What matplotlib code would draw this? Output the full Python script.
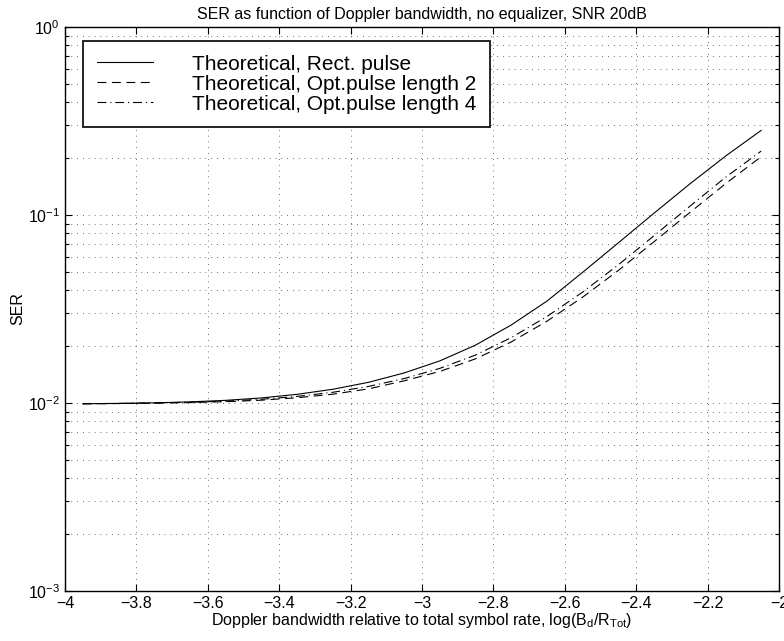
import matplotlib
matplotlib.use("Agg")
import matplotlib.pyplot as plt
from matplotlib.ticker import LogLocator, NullFormatter, FixedLocator

plt.rcParams['font.family'] = ['Liberation Sans', 'DejaVu Sans']
plt.rcParams['mathtext.fontset'] = 'custom'
plt.rcParams['mathtext.rm'] = 'Liberation Sans'
plt.rcParams['mathtext.it'] = 'Liberation Sans'

# log10 of Doppler bandwidth relative to total symbol rate
x_log_bd = [-3.95, -3.85, -3.75, -3.65, -3.55, -3.45, -3.35, -3.25, -3.15, -3.05,
            -2.95, -2.85, -2.75, -2.65, -2.55, -2.45, -2.35, -2.25, -2.15, -2.05]

# symbol error rate, rectangular pulse
ser_rect = [0.00991, 0.00995, 0.01002, 0.01014, 0.01033, 0.01064, 0.01112, 0.01183, 0.01288, 0.01445,
            0.01675, 0.02032, 0.02600, 0.03483, 0.04955, 0.07112, 0.1023, 0.1462, 0.2056, 0.2818]

# symbol error rate, optimised pulse of length 2
ser_opt2 = [0.00991, 0.00993, 0.00998, 0.01005, 0.01016, 0.01035, 0.01067, 0.01114, 0.01189, 0.01312,
            0.01472, 0.01718, 0.02113, 0.02723, 0.03656, 0.05070, 0.07211, 0.1030, 0.1466, 0.2042]

# symbol error rate, optimised pulse of length 4
ser_opt4 = [0.00991, 0.00995, 0.01000, 0.01009, 0.01023, 0.01047, 0.01084, 0.01140, 0.01225, 0.01349,
            0.01528, 0.01799, 0.02228, 0.02884, 0.03890, 0.05433, 0.07762, 0.1112, 0.1585, 0.2188]

legend_labels = ["Theoretical, Rect. pulse",
                 "Theoretical, Opt.pulse length 2",
                 "Theoretical, Opt.pulse length 4"]
x_ticks = [-4, -3.8, -3.6, -3.4, -3.2, -3, -2.8, -2.6, -2.4, -2.2, -2]

fig = plt.figure(figsize=(7.84, 6.41), dpi=100)
ax = fig.add_axes([65 / 784, 50 / 641, 714 / 784, 564 / 641])

lw = 0.8
ax.plot(x_log_bd, ser_rect, color='k', lw=lw, linestyle='-', label=legend_labels[0])
ax.plot(x_log_bd, ser_opt2, color='k', lw=lw, linestyle=(0, (8, 5)), label=legend_labels[1])
ax.plot(x_log_bd, ser_opt4, color='k', lw=lw, linestyle=(0, (8, 3.5, 1, 3.5)), label=legend_labels[2])

ax.set_yscale('log')
ax.set_xlim(-4, -2)
ax.set_ylim(1e-3, 1)
ax.xaxis.set_major_locator(FixedLocator(x_ticks))
ax.set_xticklabels([('%g' % t).replace('-', '\u2212') for t in x_ticks])
ax.yaxis.set_major_locator(LogLocator(base=10, numticks=10))
ax.yaxis.set_minor_locator(LogLocator(base=10, subs=range(2, 10), numticks=20))
ax.yaxis.set_minor_formatter(NullFormatter())

ax.tick_params(which='both', direction='in', top=True, right=True, labelsize=11.5, width=0.8)
ax.tick_params(which='major', length=5)
ax.tick_params(which='minor', length=3)
for s in ax.spines.values():
    s.set_linewidth(1.0)

grid_style = dict(color='0.25', linestyle=(0, (1, 6)), linewidth=0.6)
ax.grid(True, which='major', axis='both', **grid_style)
ax.grid(True, which='minor', axis='y', **grid_style)

ax.set_title("SER as function of Doppler bandwidth, no equalizer, SNR 20dB", fontsize=11.5, pad=6)
ax.set_xlabel(r"Doppler bandwidth relative to total symbol rate, log(B$_d$/R$_{Tot}$)", fontsize=11.5, labelpad=0)
ax.set_ylabel("SER", fontsize=11.5, labelpad=2)

leg = ax.legend(loc='upper left', bbox_to_anchor=(18 / 714, 1 - 14 / 564), borderaxespad=0,
                fontsize=15, handlelength=2.7, handletextpad=1.9, borderpad=0.65,
                labelspacing=0.05, fancybox=False, framealpha=1, edgecolor='k')
leg.get_frame().set_linewidth(1.2)

fig.savefig("out.png", dpi=100)
